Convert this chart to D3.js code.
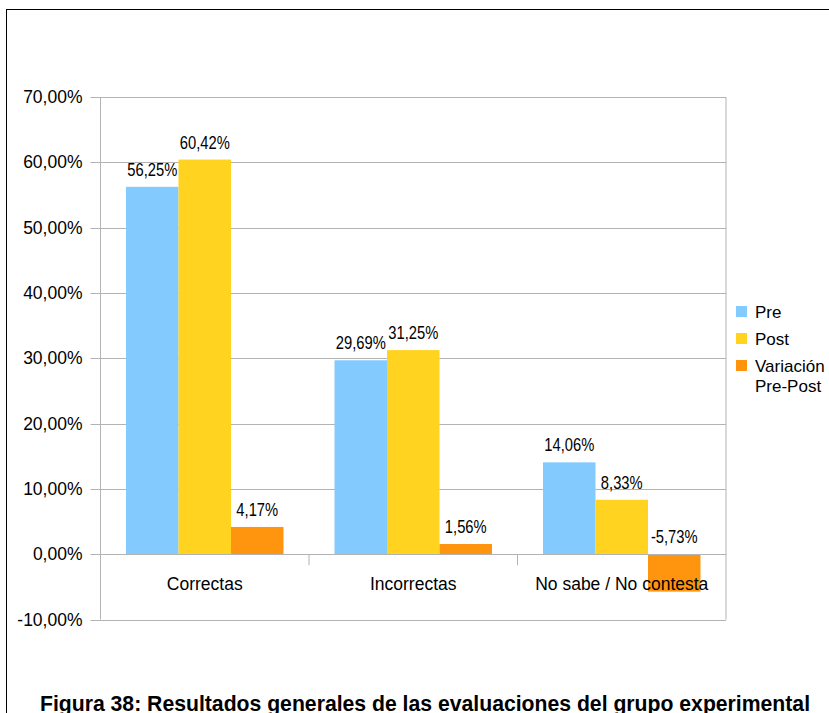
<!DOCTYPE html>
<html>
<head>
<meta charset="utf-8">
<script src="https://cdn.jsdelivr.net/npm/d3@7"></script>
<style>
  html, body { margin: 0; padding: 0; background: #fff; }
  svg { display: block; font-family: "Liberation Sans", Arial, sans-serif; }
</style>
</head>
<body>
<div id="chart"></div>
<script>
// ---- Data ----
const categories = ["Correctas", "Incorrectas", "No sabe / No contesta"];
const seriesNames = ["Pre", "Post", "Variación Pre-Post"];
const preValues = [56.25, 29.69, 14.06];
const postValues = [60.42, 31.25, 8.33];
const variationValues = [4.17, 1.56, -5.73];
const yTicks = [-10, 0, 10, 20, 30, 40, 50, 60, 70];
const seriesColors = ["#83caff", "#ffd320", "#ff950e"];
const caption = "Figura 38: Resultados generales de las evaluaciones del grupo experimental";

const seriesValues = [preValues, postValues, variationValues];
const rows = categories.map((c, i) => ({
  category: c,
  values: seriesNames.map((s, j) => ({ series: s, value: seriesValues[j][i] }))
}));

const W = 829, H = 713;
const plot = { left: 100.5, right: 726, top: 97, bottom: 619.5 };

const svg = d3.select("#chart").append("svg")
  .attr("width", W).attr("height", H);

// outer frame (partly off the page)
svg.append("rect")
  .attr("x", 6.5).attr("y", 9.5)
  .attr("width", 900).attr("height", 900)
  .attr("fill", "none").attr("stroke", "#000").attr("stroke-width", 1);

// ---- Scales ----
const y = d3.scaleLinear().domain([-10, 70]).range([plot.bottom, plot.top]);
const x0 = d3.scaleBand().domain(categories).range([plot.left, plot.right]).padding(0);
const x1 = d3.scaleBand().domain(seriesNames).range([0, x0.bandwidth()])
  .paddingInner(0).paddingOuter(0.486);
const color = d3.scaleOrdinal().domain(seriesNames).range(seriesColors);

// comma decimals, plain hyphen for negatives
const fmt = v => (v < 0 ? "-" : "") + d3.format(".2f")(Math.abs(v)).replace(".", ",") + "%";

// ---- Grid ----
svg.append("g")
  .selectAll("line")
  .data(yTicks)
  .join("line")
  .attr("x1", plot.left - 10).attr("x2", plot.right)
  .attr("y1", d => Math.round(y(d)) + 0.5).attr("y2", d => Math.round(y(d)) + 0.5)
  .attr("stroke", "#b3b3b3").attr("stroke-width", 1);

// ---- Y axis ----
const yAxis = svg.append("g")
  .attr("transform", `translate(${plot.left},0)`)
  .call(d3.axisLeft(y).tickValues(yTicks).tickSize(0).tickPadding(18).tickFormat(fmt));
yAxis.select(".domain").remove();
yAxis.selectAll("text")
  .attr("fill", "#000")
  .style("font-size", "17.5px")
  .style("font-family", "'Liberation Sans', Arial, sans-serif");

// frame of plot area
svg.append("line")
  .attr("x1", plot.left).attr("x2", plot.left)
  .attr("y1", plot.top).attr("y2", plot.bottom)
  .attr("stroke", "#b3b3b3");
svg.append("line")
  .attr("x1", plot.right).attr("x2", plot.right)
  .attr("y1", plot.top).attr("y2", plot.bottom)
  .attr("stroke", "#b3b3b3");

// ---- Bars ----
const groups = svg.append("g")
  .selectAll("g")
  .data(rows)
  .join("g")
  .attr("transform", d => `translate(${x0(d.category)},0)`);

groups.selectAll("rect")
  .data(d => d.values)
  .join("rect")
  .attr("x", d => x1(d.series))
  .attr("width", x1.bandwidth())
  .attr("y", d => y(Math.max(0, d.value)))
  .attr("height", d => Math.abs(y(d.value) - y(0)))
  .attr("fill", d => color(d.series));

// ---- Zero line + category ticks ----
svg.append("line")
  .attr("x1", plot.left).attr("x2", plot.right)
  .attr("y1", Math.round(y(0)) + 0.5).attr("y2", Math.round(y(0)) + 0.5)
  .attr("stroke", "#b3b3b3");

svg.append("g")
  .selectAll("line")
  .data(categories.slice(1))
  .join("line")
  .attr("x1", d => x0(d)).attr("x2", d => x0(d))
  .attr("y1", y(0)).attr("y2", y(0) + 11)
  .attr("stroke", "#b3b3b3");

// category labels
svg.append("g")
  .selectAll("text")
  .data(categories)
  .join("text")
  .attr("x", d => x0(d) + x0.bandwidth() / 2)
  .attr("y", y(0) + 36)
  .attr("text-anchor", "middle")
  .style("font-size", "17.5px")
  .attr("fill", "#000")
  .text(d => d);

// ---- Data labels (condensed look) ----
groups.selectAll("text")
  .data(d => d.values)
  .join("text")
  .attr("transform", d =>
    `translate(${x1(d.series) + x1.bandwidth() / 2},${y(Math.max(0, d.value)) - 11}) scale(0.82,1)`)
  .attr("text-anchor", "middle")
  .style("font-size", "18px")
  .attr("fill", "#000")
  .text(d => fmt(d.value));

// ---- Legend ----
const legend = svg.append("g").attr("transform", "translate(736,306)");
const legendItems = legend.selectAll("g")
  .data(seriesNames)
  .join("g")
  .attr("transform", (d, i) => `translate(0,${i * 27})`);
legendItems.append("rect")
  .attr("width", 11).attr("height", 11)
  .attr("fill", d => color(d));
legendItems.append("text")
  .attr("x", 19).attr("y", 12)
  .style("font-size", "17px")
  .attr("fill", "#000")
  .each(function(d) {
    const parts = d === "Variación Pre-Post" ? ["Variación", "Pre-Post"] : [d];
    const t = d3.select(this);
    parts.forEach((p, k) => {
      t.append("tspan").attr("x", 19).attr("dy", k === 0 ? 0 : 20).text(p);
    });
  });

// ---- Caption ----
svg.append("text")
  .attr("x", 425).attr("y", 711)
  .attr("text-anchor", "middle")
  .style("font-size", "21.2px")
  .style("font-weight", "bold")
  .attr("fill", "#000")
  .text(caption);
</script>
</body>
</html>
